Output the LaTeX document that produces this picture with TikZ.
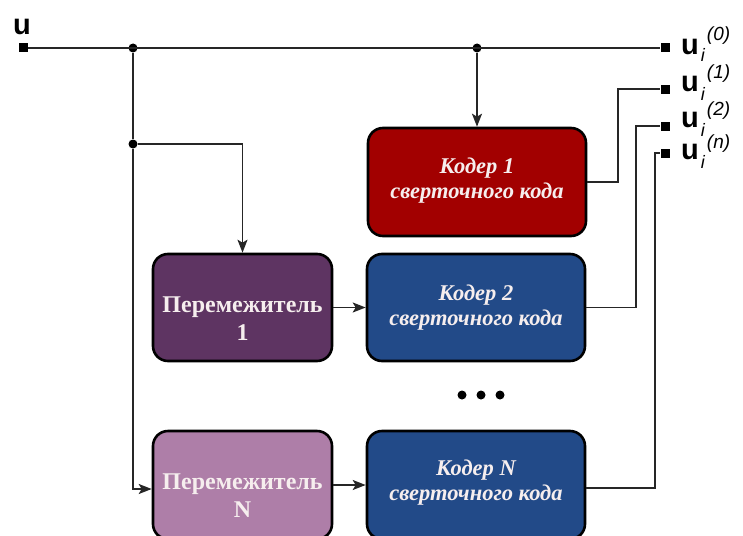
\documentclass[tikz,border=0pt]{standalone}
\usepackage{fontspec}
\setmainfont{Liberation Serif}
\newfontfamily\labfont{Liberation Sans}
\usetikzlibrary{arrows.meta}
\definecolor{kred}{RGB}{162,0,0}
\definecolor{kblue}{RGB}{34,74,136}
\definecolor{pdark}{RGB}{94,52,98}
\definecolor{plight}{RGB}{174,126,168}
\definecolor{txtc}{RGB}{246,238,238}
\newcommand\olab[3]{{\fontsize{29}{29}\selectfont\bfseries u}\hspace{2pt}\rlap{\raisebox{-#3pt}{\fontsize{18}{18}\selectfont\itshape i}}\hspace{6pt}\raisebox{#2pt}{\fontsize{19}{19}\selectfont\itshape(#1)}}
\begin{document}
\begin{tikzpicture}[x=1pt,y=-1pt,
  box/.style={draw=black, line width=2.6pt, rounded corners=15pt},
  ktxt/.style={text=txtc, font=\fontsize{22.5}{25}\selectfont\bfseries\itshape, align=center},
  ptxt/.style={text=txtc, font=\fontsize{24}{28}\selectfont\bfseries, align=center},
  wire/.style={line width=1.9pt, draw=black!85},
  arr/.style={wire, -{Stealth[length=13pt,width=10pt,inset=3pt]}},
  dotn/.style={circle, fill=black, inner sep=0pt, minimum size=9pt},
  term/.style={rectangle, fill=black, inner sep=0pt, minimum size=9pt},
  lab/.style={anchor=base west, inner sep=0pt, font=\labfont}
]
\useasboundingbox (0,0) rectangle (743,535);
\clip (0,0) rectangle (743,535);
% boxes
\node[box, fill=kred, minimum width=218pt, minimum height=108pt] (k1) at (477,182) {};
\node[box, fill=kblue, minimum width=218pt, minimum height=107pt] (k2) at (476,307.5) {};
\node[box, fill=kblue, minimum width=218pt, minimum height=108pt] (kN) at (476,485) {};
\node[box, fill=pdark, minimum width=179pt, minimum height=107pt] (p1) at (242.5,307.5) {};
\node[box, fill=plight, minimum width=179pt, minimum height=108pt] (pN) at (242.5,485) {};
% texts
\node[ktxt] (t1) at ([yshift=1pt]k1.center) {Кодер 1\\сверточного кода};
\node[ktxt] (t2) at (k2) {Кодер 2\\сверточного кода};
\node[ktxt] (tN) at ([yshift=2pt]kN.center) {Кодер N\\сверточного кода};
\node[ptxt] (tp1) at ([yshift=-11pt]p1.center) {Перемежитель\\1};
\node[ptxt] (tpN) at ([yshift=-11pt]pN.center) {Перемежитель\\N};
% terminals and dots
\node[term] (in) at (23,48) {};
\node[term] (o0) at (665,48) {};
\node[term] (o1) at (665,89) {};
\node[term] (o2) at (665,126) {};
\node[term] (on) at (665,153) {};
\node[dotn] (d1) at (133,48) {};
\node[dotn] (d2) at (133,144) {};
\node[dotn] (d3) at (477,48) {};
% wires
\draw[wire] (in) -- (o0);
\draw[wire] (d1) -- (d2);
\draw[arr] (d2) -| (p1.north);
\draw[arr] (d2) |- ([yshift=-4pt]pN.west);
\draw[arr] (d3) -- (k1.north);
\draw[arr] (p1) -- (k2);
\draw[arr] (pN) -- (kN);
\draw[wire] (k1.east) -- ++(31,0) |- (o1);
\draw[wire] (k2.east) -- ++(50,0) |- (o2);
\draw[wire] ([yshift=-3pt]kN.east) -- ++(69,0) |- (on);
% ellipsis dots
\fill (462,395) circle (4.5pt) (481,395) circle (4.5pt) (500,395) circle (4.5pt);
% labels
\node[lab, font=\labfont\fontsize{29}{29}\selectfont\bfseries] (u) at (13,35) {u};
\node[lab] (l0) at (681,55) {\olab{0}{14}{6}};
\node[lab] (l1) at (681,91) {\olab{1}{13}{9}};
\node[lab] (l2) at (681,127) {\olab{2}{12}{9}};
\node[lab] (ln) at (681,159) {\olab{n}{11}{9}};
\end{tikzpicture}
\end{document}
